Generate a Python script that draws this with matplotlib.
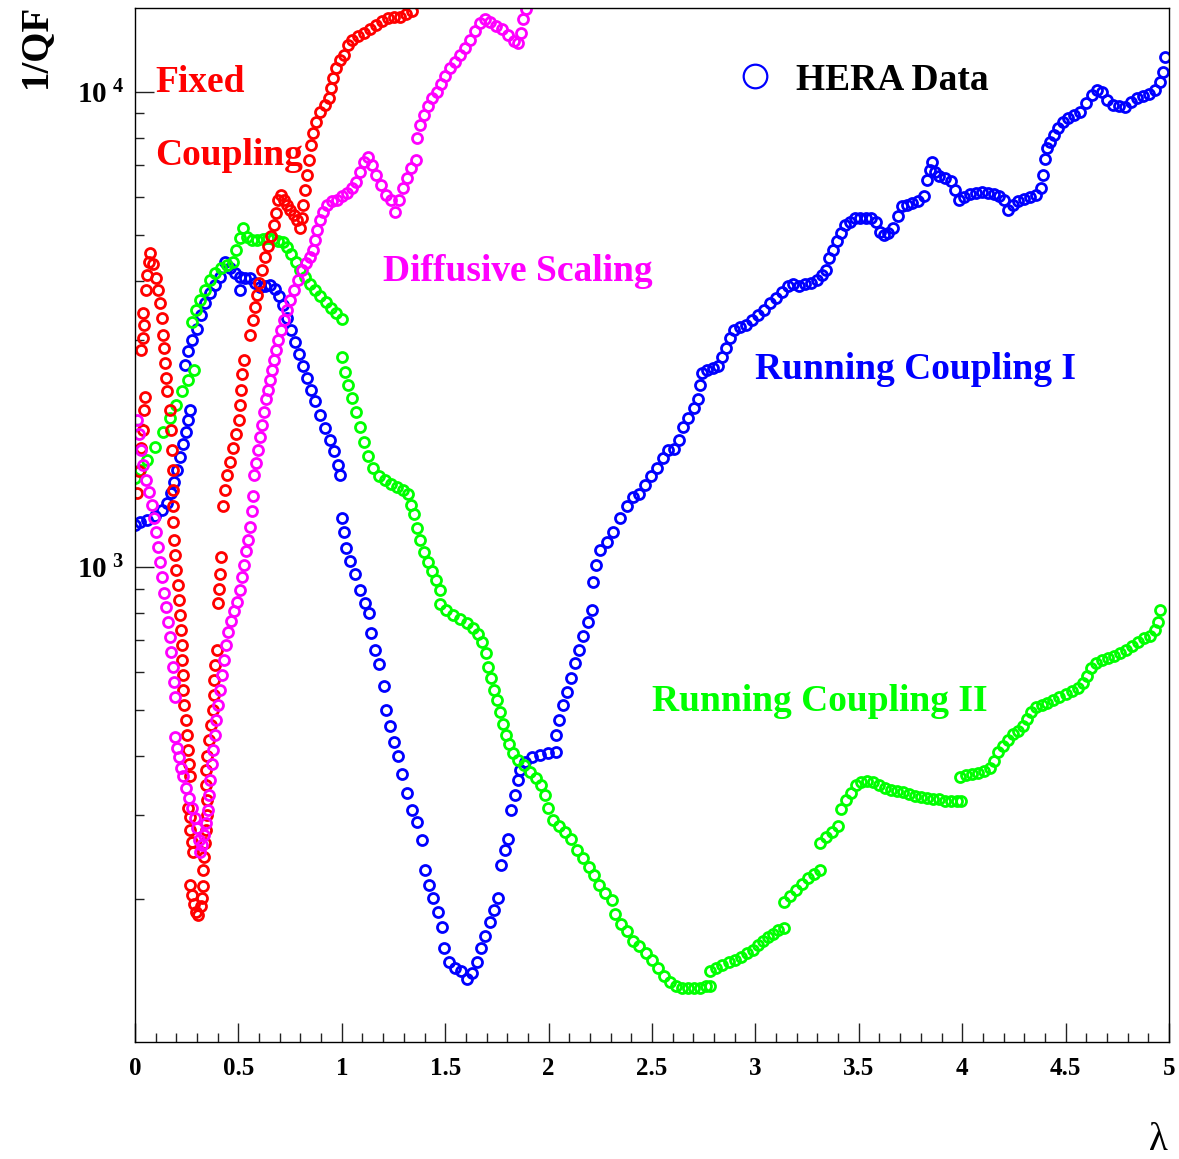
import numpy as np
import matplotlib
matplotlib.use("Agg")
import matplotlib.pyplot as plt
from matplotlib.lines import Line2D
from matplotlib.ticker import FixedLocator, NullFormatter

plt.rcParams['font.family'] = ['Liberation Serif', 'DejaVu Serif']
plt.rcParams['font.weight'] = 'bold'
plt.rcParams['mathtext.fontset'] = 'custom'
plt.rcParams['mathtext.rm'] = 'Liberation Serif:bold'
plt.rcParams['mathtext.bf'] = 'Liberation Serif:bold'
plt.rcParams['mathtext.it'] = 'Liberation Serif:bold'

# ---- data (lambda, 1/QF) ----
blue_lam = [
    0.000, 0.024, 0.058, 0.097, 0.131, 0.155, 0.174, 0.189, 0.203, 0.218, 0.232, 0.247, 0.256, 0.266,
    0.242, 0.256, 0.276, 0.300, 0.319, 0.338, 0.363, 0.387, 0.411, 0.435, 0.459, 0.484, 0.508, 0.508,
    0.532, 0.556, 0.580, 0.604, 0.629, 0.653, 0.677, 0.696, 0.716, 0.735, 0.754, 0.774, 0.793, 0.812,
    0.832, 0.851, 0.870, 0.895, 0.919, 0.943, 0.962, 0.982, 0.991,
    1.001, 1.011, 1.020, 1.040, 1.064, 1.088, 1.112, 1.132,
    1.141, 1.161, 1.180, 1.204,
    1.214, 1.233, 1.252, 1.272, 1.291, 1.315, 1.339, 1.364, 1.388,
    1.402, 1.422, 1.441, 1.465, 1.485,
    1.494, 1.518, 1.547, 1.576, 1.605, 1.630, 1.654, 1.673, 1.692, 1.717, 1.736, 1.755,
    1.770, 1.789, 1.804,
    1.818, 1.838, 1.852,
    1.862, 1.886, 1.920, 1.958, 1.997, 2.036, 2.036, 2.050, 2.070, 2.089, 2.108, 2.128, 2.147, 2.166, 2.190, 2.210,
    2.215, 2.229, 2.249, 2.282, 2.311, 2.345, 2.379, 2.408, 2.437, 2.466, 2.495, 2.524, 2.553, 2.577,
    2.606, 2.631, 2.650, 2.674, 2.703, 2.722, 2.732, 2.742, 2.766, 2.795, 2.819, 2.838, 2.858, 2.877,
    2.897, 2.926, 2.955, 2.984, 3.013, 3.042, 3.070, 3.100, 3.129, 3.158, 3.182, 3.211, 3.240, 3.269,
    3.298, 3.322, 3.341, 3.356, 3.375, 3.395, 3.414, 3.433, 3.457, 3.482, 3.506, 3.535, 3.559, 3.583,
    3.603, 3.622, 3.641, 3.665,
    3.689, 3.709, 3.733, 3.757, 3.786, 3.815, 3.830, 3.844, 3.854, 3.868, 3.888, 3.917, 3.946, 3.965,
    3.985, 4.009, 4.038, 4.067, 4.096, 4.125, 4.154, 4.178, 4.202, 4.221, 4.246, 4.270, 4.299, 4.328,
    4.357, 4.381, 4.391, 4.400, 4.410, 4.425, 4.444, 4.463, 4.487, 4.512, 4.541, 4.570, 4.599, 4.628,
    4.652, 4.676, 4.700, 4.729, 4.758, 4.787, 4.816, 4.845, 4.874, 4.903, 4.932, 4.956, 4.971, 4.981]
blue_val = [
    1225, 1243, 1255, 1280, 1320, 1365, 1430, 1510, 1600, 1700, 1810, 1925, 2040, 2140,
    2665, 2840, 3005, 3170, 3390, 3600, 3770, 3920, 4080, 4390, 4260, 4160, 4080, 3830,
    4060, 4060, 3960, 3880, 3900, 3920, 3850, 3720, 3560, 3340, 3155, 2980, 2800, 2650,
    2500, 2360, 2230, 2090, 1960, 1850, 1750, 1640, 1560,
    1270, 1185, 1095, 1030, 965, 895, 840, 800,
    725, 668, 625, 560,
    500, 463, 428, 400, 367, 335, 308, 290, 266,
    230, 214, 201, 188, 175,
    158, 147, 143, 141, 136, 140, 147, 158, 167, 179, 190, 201,
    236, 253, 268,
    308, 331, 356,
    374, 389, 397, 401, 405, 408, 443, 476, 512, 545, 584, 626, 668, 716, 765, 812,
    930, 1010, 1085, 1130, 1185, 1270, 1345, 1400, 1420, 1490, 1555, 1615, 1695, 1765,
    1770, 1850, 1965, 2060, 2160, 2250, 2415, 2560, 2600, 2625, 2650, 2765, 2890, 3035,
    3155, 3200, 3230, 3310, 3390, 3475, 3595, 3685, 3790, 3905, 3940, 3905, 3940, 3960,
    4020, 4120, 4220, 4470, 4650, 4860, 5050, 5230, 5330, 5410, 5430, 5430, 5410, 5330,
    5070, 5000, 5040, 5170,
    5480, 5750, 5770, 5840, 5900, 6030, 6530, 6850, 7120, 6790, 6660, 6590, 6500, 6220,
    5925, 6010, 6100, 6130, 6160, 6130, 6100, 6040, 5925, 5645, 5780, 5895, 5950, 6010,
    6070, 6280, 6690, 7200, 7620, 7840, 8110, 8390, 8630, 8820, 8950, 9040, 9450, 9860,
    10100, 10000, 9620, 9390, 9340, 9300, 9520, 9700, 9800, 9900, 10100, 10500, 11000, 11850]

green_lam = [
    0.000, 0.024, 0.058, 0.097, 0.135, 0.169, 0.198, 0.227, 0.256, 0.285,
    0.276, 0.295, 0.314, 0.338, 0.363, 0.387, 0.416, 0.445, 0.474, 0.488, 0.508, 0.522, 0.542, 0.566,
    0.590, 0.619, 0.643, 0.667, 0.692, 0.716, 0.735, 0.754, 0.779, 0.798, 0.822, 0.846, 0.870, 0.895,
    0.924, 0.948, 0.972, 1.001,
    1.001, 1.016, 1.030, 1.049, 1.069, 1.088, 1.107, 1.127, 1.151, 1.180, 1.209, 1.238, 1.267, 1.296,
    1.320, 1.335, 1.349, 1.364, 1.378, 1.398, 1.417, 1.436, 1.456, 1.475,
    1.475, 1.504, 1.538, 1.572, 1.605, 1.634, 1.659, 1.678, 1.697, 1.707, 1.721, 1.736, 1.750, 1.765,
    1.779, 1.794, 1.808, 1.828, 1.852, 1.881, 1.910, 1.939, 1.963, 1.983, 1.997, 2.021, 2.050, 2.079,
    2.108, 2.137, 2.166, 2.195, 2.220, 2.244, 2.273, 2.307,
    2.321, 2.350, 2.379, 2.408, 2.437, 2.471, 2.500, 2.529, 2.558, 2.587, 2.616, 2.645, 2.674, 2.703,
    2.732, 2.761, 2.780,
    2.780, 2.810, 2.838, 2.872, 2.901, 2.930, 2.959, 2.988, 3.013, 3.037, 3.061, 3.085, 3.110, 3.138,
    3.138, 3.167, 3.196, 3.225, 3.254, 3.283, 3.312,
    3.312, 3.341, 3.370, 3.399,
    3.414, 3.438, 3.462, 3.486, 3.511, 3.540, 3.569, 3.598, 3.627, 3.656, 3.685, 3.714, 3.743, 3.772,
    3.801, 3.830, 3.859, 3.888, 3.917, 3.946, 3.975, 3.994,
    3.989, 4.018, 4.047, 4.076, 4.105, 4.134, 4.154, 4.173, 4.197, 4.221, 4.246, 4.270, 4.294, 4.313,
    4.333, 4.357, 4.386, 4.410, 4.439, 4.468, 4.502, 4.531, 4.560, 4.584, 4.603, 4.623, 4.647, 4.676,
    4.705, 4.734, 4.763, 4.792, 4.821, 4.850, 4.879, 4.908, 4.932, 4.947, 4.956]
green_val = [
    1540, 1600, 1680, 1790, 1925, 2060, 2195, 2340, 2475, 2600,
    3280, 3475, 3650, 3830, 4020, 4160, 4260, 4310, 4390, 4650, 4920, 5170, 4950, 4880,
    4880, 4900, 4920, 4900, 4860, 4830, 4700, 4560, 4390, 4220, 4080, 3940, 3830, 3720,
    3610, 3510, 3420, 3330,
    2770, 2575, 2410, 2270, 2120, 1970, 1835, 1715, 1615, 1555, 1520, 1495, 1475, 1450,
    1420, 1350, 1290, 1205, 1140, 1075, 1025, 980, 940, 895,
    835, 810, 790, 778, 763, 745, 723, 695, 660, 615, 583, 551, 525, 495,
    467, 443, 423, 405, 393, 383, 370, 360, 348, 331, 311, 293, 285, 276,
    267, 254, 244, 233, 225, 214, 206, 199,
    186, 177, 171, 163, 159, 154, 149, 143, 138, 134, 131, 130, 130, 130,
    130, 131, 131,
    141, 143, 145, 147, 149, 151, 154, 156, 160, 163, 166, 169, 172, 174,
    197, 203, 209, 215, 221, 226, 230,
    262, 270, 277, 285,
    310, 323, 334, 347, 352, 354, 352, 347, 342, 339, 337, 336, 333, 330,
    328, 327, 325, 324, 322, 322, 321, 321,
    362, 365, 367, 369, 372, 377, 391, 408, 419, 432, 445, 451, 462, 479,
    495, 507, 512, 517, 525, 533, 540, 548, 557, 570, 590, 613, 628, 637,
    643, 649, 658, 668, 680, 695, 709, 716, 737, 765, 812]

red_lam = [
    0.010, 0.019, 0.029, 0.039, 0.044, 0.048,
    0.029, 0.039, 0.044, 0.039, 0.053, 0.058, 0.068, 0.073, 0.087, 0.102, 0.111, 0.121,
    0.131, 0.135, 0.140, 0.145, 0.150, 0.155, 0.169, 0.174, 0.179, 0.184, 0.184, 0.184,
    0.184, 0.189, 0.193, 0.198, 0.208, 0.213, 0.218, 0.223, 0.227, 0.227, 0.232, 0.232,
    0.237, 0.247, 0.251, 0.256, 0.261, 0.266,
    0.256, 0.266, 0.266, 0.276, 0.280,
    0.266, 0.276, 0.285, 0.295, 0.305, 0.319, 0.324, 0.329, 0.329, 0.334, 0.338, 0.343,
    0.348, 0.348, 0.343, 0.343, 0.348, 0.358, 0.367, 0.377, 0.382, 0.382, 0.387, 0.397,
    0.401, 0.406, 0.411, 0.416,
    0.426, 0.435, 0.445, 0.459, 0.474, 0.488, 0.503, 0.508, 0.513, 0.517, 0.527,
    0.556, 0.571, 0.580, 0.590, 0.600, 0.614, 0.629, 0.643, 0.658, 0.672, 0.682, 0.692,
    0.706, 0.721, 0.735, 0.750, 0.769, 0.783, 0.798, 0.808, 0.812, 0.822, 0.832, 0.841,
    0.851, 0.861, 0.875, 0.895, 0.919, 0.938, 0.948, 0.957, 0.972, 0.991, 1.011, 1.030,
    1.049, 1.078, 1.107, 1.136, 1.165, 1.194, 1.223, 1.252, 1.281, 1.310, 1.339]
red_val = [
    1430, 1590, 1780, 1945, 2140, 2275,
    2865, 3035, 3230, 3420, 3830, 4120, 4390, 4580, 4330, 4060, 3830, 3600,
    3340, 3080, 2890, 2690, 2500, 2340, 2140, 1945, 1765, 1600, 1450, 1340,
    1240, 1140, 1060, 985, 915, 853, 793, 737, 685, 637, 592, 551,
    512, 476, 443, 412, 384, 363,
    311, 297, 279, 263, 251,
    214, 204, 195, 188, 185, 193, 201, 213, 230, 245, 262, 279,
    301, 323, 348, 374, 399, 432, 465, 500, 538, 578, 622, 668,
    841, 900, 965, 1050,
    1340, 1450, 1560, 1665, 1780, 1905, 2040, 2195, 2360, 2540, 2730,
    3080, 3310, 3530, 3740, 3960, 4220, 4480, 4740, 4970, 5250, 5560, 5925,
    6060, 5925, 5780, 5645, 5510, 5380, 5170, 5430, 5780, 6220, 6690, 7195,
    7720, 8180, 8650, 9050, 9390, 9710, 10200, 10700, 11240, 11670, 11960, 12550,
    12860, 13120, 13320, 13520, 13800, 14060, 14260, 14330, 14330, 14550, 14760]

mag_lam = [
    0.010, 0.019, 0.029, 0.039, 0.053, 0.068, 0.082, 0.092, 0.102, 0.111,
    0.121, 0.131, 0.140, 0.150, 0.160, 0.169, 0.174, 0.184, 0.189, 0.193,
    0.193, 0.203, 0.213, 0.222, 0.232, 0.247, 0.261, 0.276, 0.290, 0.300,
    0.309, 0.314, 0.324, 0.334, 0.343, 0.353, 0.358, 0.363, 0.372, 0.377,
    0.387, 0.392, 0.401, 0.411, 0.421, 0.430, 0.440, 0.450, 0.464, 0.479,
    0.493, 0.508, 0.517, 0.527, 0.537, 0.546, 0.556, 0.566, 0.571,
    0.575, 0.585, 0.595, 0.604, 0.614, 0.624, 0.633, 0.643, 0.653, 0.662,
    0.672, 0.682, 0.692, 0.706, 0.721, 0.735, 0.750, 0.769, 0.788, 0.808,
    0.827, 0.846, 0.861, 0.870, 0.880, 0.895, 0.909, 0.928, 0.953, 0.977,
    1.001, 1.025, 1.049, 1.069, 1.088, 1.107, 1.127, 1.146, 1.165, 1.190,
    1.214, 1.238, 1.257, 1.277, 1.296, 1.315, 1.335, 1.359,
    1.364, 1.378, 1.398, 1.417, 1.436, 1.460, 1.480, 1.499, 1.523, 1.547,
    1.572, 1.596, 1.620, 1.644, 1.668, 1.692, 1.717, 1.746, 1.775, 1.804,
    1.833, 1.852, 1.867, 1.876, 1.891]
mag_val = [
    2040, 1900, 1765, 1640, 1525, 1440, 1350, 1270, 1185, 1100,
    1025, 950, 880, 825, 766, 711, 662, 616, 572, 532,
    439, 416, 397, 378, 363, 343, 326, 311, 296, 282,
    266, 251, 260, 273, 289, 308, 331, 356, 384, 412,
    443, 476, 512, 551, 592, 637, 685, 730, 770, 808,
    845, 895, 950, 1010, 1080, 1140, 1210, 1310, 1410,
    1560, 1655, 1765, 1880, 1990, 2120, 2250, 2360, 2475, 2600,
    2730, 2865, 3005, 3155, 3310, 3475, 3650, 3830, 4020, 4220,
    4370, 4480, 4650, 4880, 5120, 5380, 5590, 5780, 5890, 5925,
    6020, 6130, 6280, 6470, 6790, 7120, 7300, 7020, 6690, 6370,
    6070, 5925, 5590, 5925, 6280, 6590, 6920, 7195,
    7995, 8510, 8940, 9340, 9710, 10000, 10390, 10800, 11240, 11570,
    11960, 12370, 12860, 13390, 13950, 14190, 14050, 13730, 13520, 13180,
    12790, 12670, 13320, 14190, 14900]

x_ticks = [0, 0.5, 1, 1.5, 2, 2.5, 3, 3.5, 4, 4.5, 5]
x_ticklabels = ["0", "0.5", "1", "1.5", "2", "2.5", "3", "3.5", "4", "4.5", "5"]
y_ticks = [1e3, 1e4]
y_ticklabels = [r"$10^{\ 3}$", r"$10^{\ 4}$"]

# ---- figure ----
W, H = 1179, 1159
fig = plt.figure(figsize=(W / 100, H / 100), dpi=100)
ax = fig.add_axes([135 / W, 1 - 1042 / H, (1169 - 135) / W, (1042 - 8) / H])
ax.set_yscale("log")
ax.set_xlim(0, 5)
ax.set_ylim(100, 15000)

style = dict(ls="none", marker="o", ms=7.2, mfc="none", mew=2.0)
series = [(blue_lam, blue_val, "#0000ff"),
          (green_lam, green_val, "#00ff00"),
          (red_lam, red_val, "#ff0000"),
          (mag_lam, mag_val, "#ff00ff")]
for lam, val, col in series:
    ax.plot(lam, val, color=col, mec=col, **style)

# ticks (ROOT style: inside, left & bottom only)
ax.set_xticks(x_ticks)
ax.set_xticklabels(x_ticklabels)
ax.set_xticks(np.arange(0, 5.001, 0.1), minor=True)
ax.set_yticks(y_ticks)
ax.set_yticklabels(y_ticklabels)
ax.yaxis.set_minor_locator(FixedLocator([m * d for d in (100, 1000) for m in range(2, 10)]))
ax.yaxis.set_minor_formatter(NullFormatter())
ax.tick_params(which="both", direction="in", top=False, right=False, width=1.0, color="#222222")
ax.tick_params(which="major", length=13.5)
ax.tick_params(which="minor", length=6.5)
ax.tick_params(axis="x", labelsize=18, pad=11)
ax.tick_params(axis="y", labelsize=21, pad=8)
for s in ax.spines.values():
    s.set_linewidth(1.0)

# annotations
tkw = dict(fontsize=27, fontweight="bold", va="baseline", ha="left")
ax.text(0.097, 10000, "Fixed", color="#ff0000", **tkw)
ax.text(0.097, 7020, "Coupling", color="#ff0000", **tkw)
ax.text(1.199, 4000, "Diffusive Scaling", color="#ff00ff", **tkw)
ax.text(2.998, 2490, "Running Coupling I", color="#0000ff", **tkw)
ax.text(2.500, 498, "Running Coupling II", color="#00ff00", **tkw)

handle = Line2D([], [], ls="none", marker="o", ms=17, mfc="none", mec="#0000ff", mew=1.6)
ax.legend([handle], ["HERA Data"], loc="center left",
          bbox_to_anchor=(736 / W, 1 - 80 / H), bbox_transform=fig.transFigure,
          frameon=False, handlelength=1.0, handletextpad=0.6, borderpad=0, borderaxespad=0,
          prop=dict(family="Liberation Serif", weight="bold", size=27))

fig.text(35 / W, 1 - 88 / H, "1/QF", rotation=90, ha="center", va="bottom",
         fontsize=28, fontweight="bold")
fig.text(1158 / W, 1 - 1140 / H, "λ", ha="center", va="center", fontsize=28, fontweight="normal")

fig.savefig("out.png", dpi=100)
